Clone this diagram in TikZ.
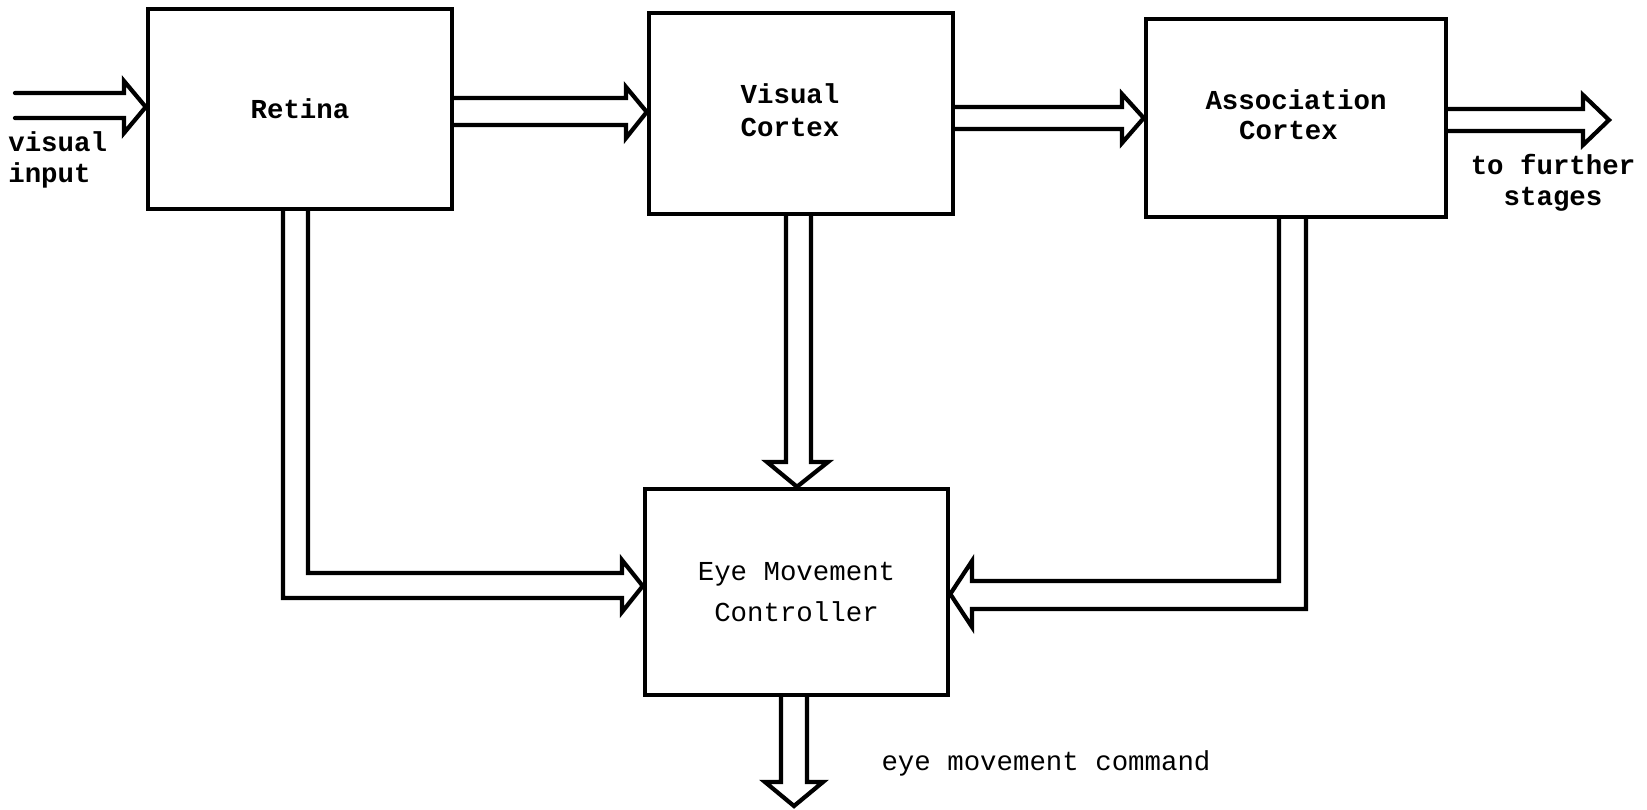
\documentclass[tikz,border=0pt]{standalone}
\usepackage{fontspec}
\setmonofont{Liberation Mono}
\usetikzlibrary{calc}
\begin{document}
\begin{tikzpicture}[x=0.02cm,y=-0.02cm,
  box/.style={draw=black, line width=2.6pt, inner sep=0pt, align=center,
    font=\ttfamily\bfseries\fontsize{15.6}{19}\selectfont},
  boxtext/.style={inner sep=0pt, align=center,
    font=\ttfamily\bfseries\fontsize{15.6}{19}\selectfont},
  lbl/.style={inner sep=0pt, font=\ttfamily\bfseries\fontsize{15.6}{17.5}\selectfont},
  conn/.style={draw=black, line width=2.4pt, line join=miter, line cap=round}]
\useasboundingbox (0,0) rectangle (1647,809);
\fill[white] (0,0) rectangle (1647,809);
% boxes
\node[box, minimum width=6.08cm, minimum height=4.0cm] (ret) at (300,109) {Retina};
\node[box, minimum width=6.08cm, minimum height=4.02cm] (vc) at (801,113.5) {};
\node[boxtext] (vct) at (790,110.3) {Visual\\Cortex};
\node[box, minimum width=6.0cm, minimum height=3.96cm] (ac) at (1296,118) {};
\node[boxtext] (act) at (1296,114.8) {Association\\[-2pt]Cortex\hspace*{0.3cm}};
\node[box, minimum width=6.06cm, minimum height=4.12cm,
  font=\ttfamily\fontsize{15.6}{19}\selectfont] (emc) at (796.5,592) {Eye Movement\\[4pt]Controller};
% free ends
\coordinate (in) at (15,105);
\coordinate (out) at (1609,120);
\coordinate (cmd) at (794,806);
% labels
\node[lbl, anchor=west, align=left] (vin) at (8,160) {visual\\input};
\node[lbl, align=center] (fur) at (1553,183) {to further\\stages};
\node[lbl, font=\ttfamily\fontsize{15.6}{19}\selectfont] (emcmd) at (1046,763) {eye movement command};
% connectors
\draw[conn] (in |- 0,93) -- (124,93) -- (124,81) -- (ret.west |- 0,107)
  -- (124,133) -- (124,118) -- (in |- 0,118);
\draw[conn] (ret.east |- 0,98) -- (626,98) -- (626,87) -- (vc.west |- 0,112)
  -- (626,138) -- (626,125) -- (ret.east |- 0,125);
\draw[conn] (vc.east |- 0,107) -- (1122,107) -- (1122,94) -- (ac.west |- 0,118)
  -- (1122,143) -- (1122,129) -- (vc.east |- 0,129);
\draw[conn] (ac.east |- 0,109) -- (1583,109) -- (1583,95) -- (out)
  -- (1583,145) -- (1583,131) -- (ac.east |- 0,131);
\draw[conn] (vc.south -| 786,0) -- (786,462) -- (767,462) -- (emc.north -| 797,0)
  -- (828,462) -- (811,462) -- (vc.south -| 811,0);
\draw[conn] (ret.south -| 308,0) -- (308,573) -- (622,573) -- (622,560)
  -- (emc.west |- 0,586) -- (622,612) -- (622,598) -- (283,598) -- (ret.south -| 283,0);
\draw[conn] (ac.south -| 1279,0) -- (1279,581) -- (972,581) -- (972,561)
  -- (emc.east |- 0,594) -- (972,627) -- (972,609) -- (1306,609) -- (ac.south -| 1306,0);
\draw[conn] (emc.south -| 781,0) -- (781,782) -- (765,782) -- (cmd)
  -- (823,782) -- (807,782) -- (emc.south -| 807,0);
\end{tikzpicture}
\end{document}
